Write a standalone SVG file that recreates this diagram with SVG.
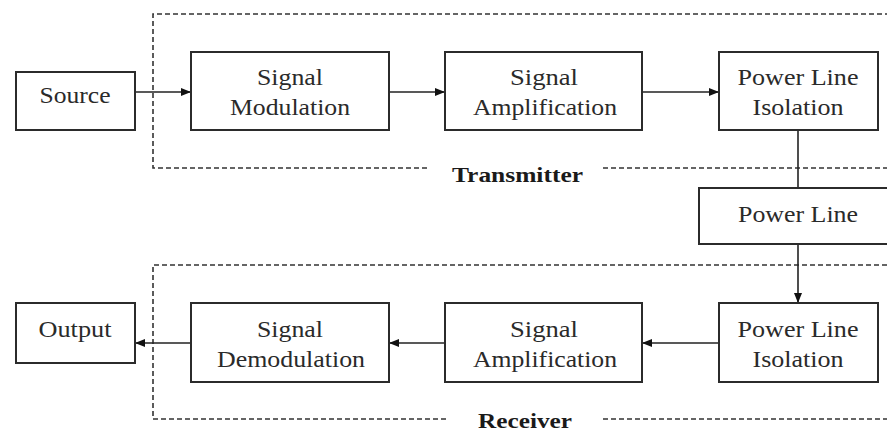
<svg xmlns="http://www.w3.org/2000/svg" width="887" height="434" viewBox="0 0 887 434">
<style>
.box{fill:#fff;stroke:#2b2b2b;stroke-width:2}
.t{font-family:"Liberation Serif","Times New Roman",serif;font-size:23px;fill:#2a2a2a;text-anchor:middle}
.lbl{font-family:"Liberation Serif","Times New Roman",serif;font-size:22px;font-weight:bold;fill:#1a1a1a}
.dash{fill:none;stroke:#333;stroke-width:1.6;stroke-dasharray:5,3}
.conn{fill:none;stroke:#222;stroke-width:1.6}
</style>
<defs>
<marker id="ah" viewBox="0 0 10 10" refX="10" refY="5" markerWidth="10" markerHeight="10" markerUnits="userSpaceOnUse" orient="auto">
<path d="M0,1 L10,5 L0,9 Z" fill="#111"/>
</marker>
</defs>
<rect width="887" height="434" fill="#fff"/>
<g id="transmitter-frame">
<path class="dash" d="M427,168 H153 V14 H900"/>
<path class="dash" d="M603,168 H900"/>
<text class="lbl" x="452" y="182" textLength="131" lengthAdjust="spacingAndGlyphs">Transmitter</text>
</g>
<g id="receiver-frame">
<path class="dash" d="M446,419 H153 V265 H900"/>
<path class="dash" d="M603,419 H900"/>
<text class="lbl" x="478" y="428" textLength="94" lengthAdjust="spacingAndGlyphs">Receiver</text>
</g>
<g id="connectors">
<line class="conn" x1="135" y1="92" x2="191" y2="92" marker-end="url(#ah)"/>
<line class="conn" x1="389" y1="92" x2="445" y2="92" marker-end="url(#ah)"/>
<line class="conn" x1="642" y1="92" x2="719" y2="92" marker-end="url(#ah)"/>
<line class="conn" x1="798" y1="130" x2="798" y2="188"/>
<line class="conn" x1="798" y1="244" x2="798" y2="303" marker-end="url(#ah)"/>
<line class="conn" x1="719" y1="343" x2="642" y2="343" marker-end="url(#ah)"/>
<line class="conn" x1="445" y1="343" x2="389" y2="343" marker-end="url(#ah)"/>
<line class="conn" x1="191" y1="343" x2="135" y2="343" marker-end="url(#ah)"/>
</g>
<g id="source">
<rect class="box" x="16" y="72" width="119" height="58"/>
<text class="t" x="75" y="103" textLength="71" lengthAdjust="spacingAndGlyphs">Source</text>
</g>
<g id="signal-modulation">
<rect class="box" x="191" y="52" width="198" height="78"/>
<text class="t" x="290" y="85" textLength="66" lengthAdjust="spacingAndGlyphs">Signal</text>
<text class="t" x="290" y="115" textLength="120" lengthAdjust="spacingAndGlyphs">Modulation</text>
</g>
<g id="tx-signal-amplification">
<rect class="box" x="445" y="52" width="197" height="78"/>
<text class="t" x="544" y="85" textLength="68" lengthAdjust="spacingAndGlyphs">Signal</text>
<text class="t" x="545" y="115" textLength="144" lengthAdjust="spacingAndGlyphs">Amplification</text>
</g>
<g id="tx-power-line-isolation">
<rect class="box" x="719" y="52" width="159" height="78"/>
<text class="t" x="798" y="85" textLength="121" lengthAdjust="spacingAndGlyphs">Power Line</text>
<text class="t" x="798" y="115" textLength="91" lengthAdjust="spacingAndGlyphs">Isolation</text>
</g>
<g id="power-line">
<rect class="box" x="699" y="188" width="200" height="56"/>
<text class="t" x="798" y="222" textLength="120" lengthAdjust="spacingAndGlyphs">Power Line</text>
</g>
<g id="rx-power-line-isolation">
<rect class="box" x="719" y="303" width="159" height="79"/>
<text class="t" x="798" y="337" textLength="121" lengthAdjust="spacingAndGlyphs">Power Line</text>
<text class="t" x="798" y="367" textLength="91" lengthAdjust="spacingAndGlyphs">Isolation</text>
</g>
<g id="rx-signal-amplification">
<rect class="box" x="445" y="303" width="197" height="79"/>
<text class="t" x="544" y="337" textLength="68" lengthAdjust="spacingAndGlyphs">Signal</text>
<text class="t" x="545" y="367" textLength="144" lengthAdjust="spacingAndGlyphs">Amplification</text>
</g>
<g id="signal-demodulation">
<rect class="box" x="191" y="303" width="198" height="79"/>
<text class="t" x="290" y="337" textLength="66" lengthAdjust="spacingAndGlyphs">Signal</text>
<text class="t" x="291" y="367" textLength="148" lengthAdjust="spacingAndGlyphs">Demodulation</text>
</g>
<g id="output">
<rect class="box" x="16" y="303" width="119" height="60"/>
<text class="t" x="75" y="337" textLength="73" lengthAdjust="spacingAndGlyphs">Output</text>
</g>
</svg>
